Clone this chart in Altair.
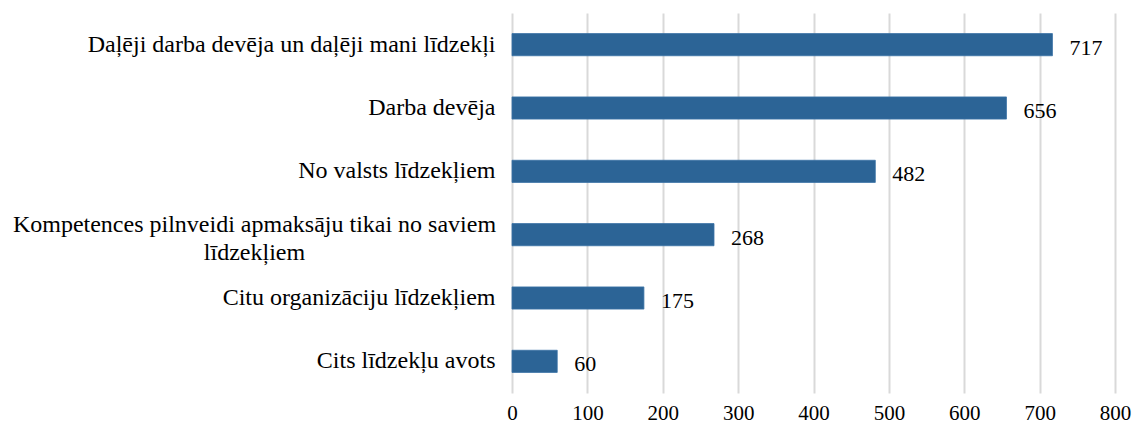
import altair as alt
import pandas as pd

categories = [
    "Daļēji darba devēja un daļēji mani līdzekļi",
    "Darba devēja",
    "No valsts līdzekļiem",
    "Kompetences pilnveidi apmaksāju tikai no saviem līdzekļiem",
    "Citu organizāciju līdzekļiem",
    "Cits līdzekļu avots",
]
values = [717, 656, 482, 268, 175, 60]
x_ticks = [0, 100, 200, 300, 400, 500, 600, 700, 800]

df = pd.DataFrame({"cat": categories, "val": values})

FONT = "Liberation Serif"
BAR = "#2C6496"
LONG = "Kompetences pilnveidi apmaksāju tikai no saviem līdzekļiem"
IS_LONG = "datum.value == '" + LONG + "'"

label_expr = (
    IS_LONG + " ? "
    "['Kompetences pilnveidi apmaksāju tikai no saviem', 'līdzekļiem'] : datum.value"
)

base = alt.Chart(df)

y_enc = alt.Y(
    "cat:N",
    sort=categories,
    scale=alt.Scale(paddingInner=0.65, paddingOuter=0.325),
    axis=alt.Axis(
        title=None, ticks=False, domain=False, grid=False,
        labelFont=FONT, labelFontSize=24, labelColor="#000000",
        labelLimit=600, labelLineHeight=28,
        labelExpr=label_expr,
        labelAlign={"condition": {"test": IS_LONG, "value": "center"}, "value": "right"},
        labelPadding={"condition": {"test": IS_LONG, "value": 258}, "value": 17},
        labelOffset={"condition": {"test": IS_LONG, "value": -10}, "value": 0},
    ),
)

x_enc = alt.X(
    "val:Q",
    scale=alt.Scale(domain=[0, 800], nice=False),
    axis=alt.Axis(
        title=None, values=x_ticks, ticks=False, domain=False,
        grid=True, gridColor="#d9d9d9", gridWidth=2,
        labelFont=FONT, labelFontSize=21, labelColor="#000000",
        labelPadding=9, labelFlush=False, labelOverlap=False,
    ),
)

bars = base.mark_bar(color=BAR, stroke="#3A72A6", strokeWidth=0.8).encode(x=x_enc, y=y_enc)

text = base.mark_text(
    align="left", baseline="middle", dx=17, dy=3,
    font=FONT, fontSize=22, color="#000000",
).encode(x="val:Q", y=alt.Y("cat:N", sort=categories), text="val:Q")

chart = (
    alt.layer(bars, text)
    .properties(
        width=603, height=380,
        autosize=alt.AutoSizeParams(type="none"),
        padding={"left": 504, "top": 5, "right": 17, "bottom": 34},
        background="#ffffff",
    )
    .configure_view(stroke=None)
)

chart.save("out.html", embed_options={"renderer": "svg", "actions": False})
